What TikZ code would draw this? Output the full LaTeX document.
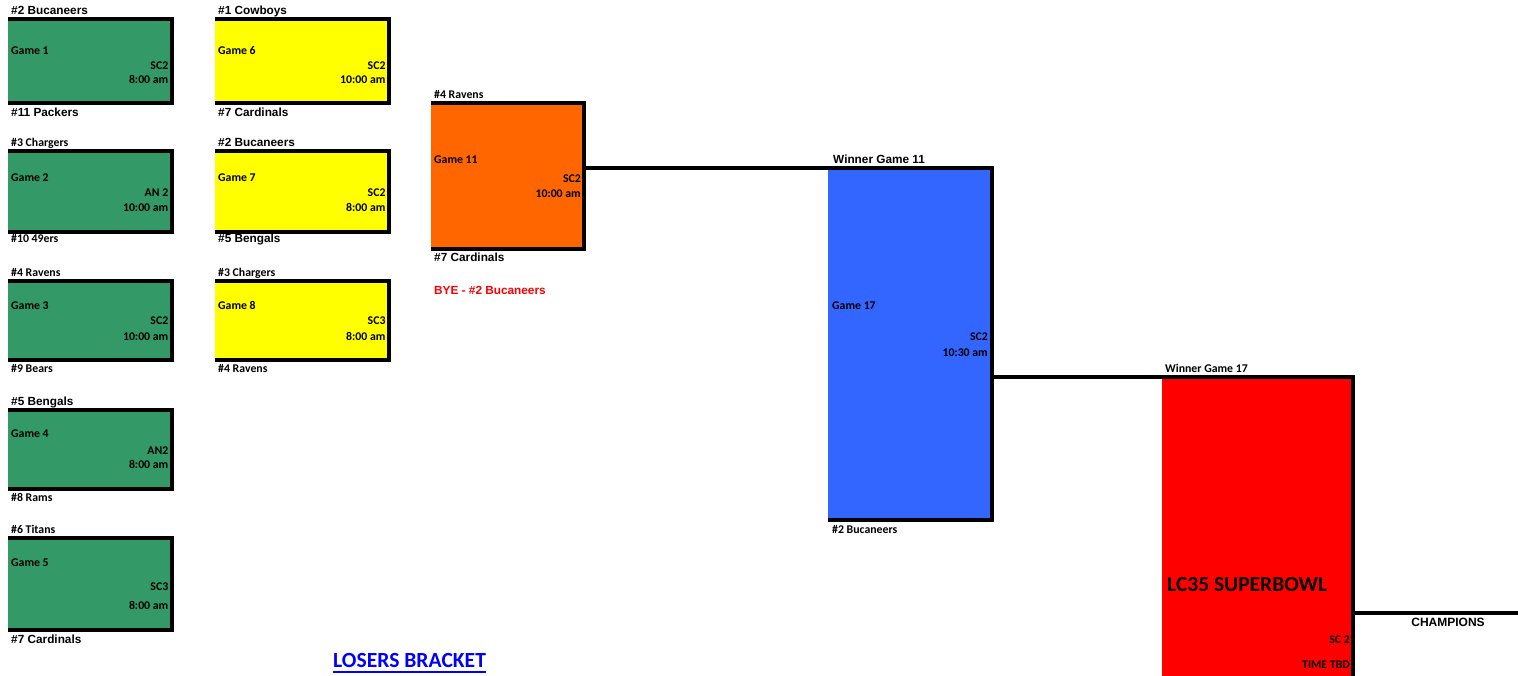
\documentclass[tikz,border=0pt]{standalone}
\usepackage{fontspec}
\usepackage{xcolor}
\usepackage{tikz}
\setmainfont{Carlito}
\newfontfamily\arialfont{Liberation Sans}

\definecolor{grn}{RGB}{51,153,102}
\definecolor{yel}{RGB}{255,255,0}
\definecolor{org}{RGB}{255,102,0}
\definecolor{blu}{RGB}{51,102,255}
\definecolor{rd}{RGB}{255,0,0}
\definecolor{linkblue}{RGB}{0,0,255}

\tikzset{
  gamebox/.style={anchor=north west, inner sep=0pt, outer sep=0pt, draw=none},
  rim/.style={line width=4pt, line join=miter},
  feed/.style={line width=3.4pt},
  cal/.style={font=\fontsize{11.8}{12}\selectfont\bfseries, inner sep=0pt},
  ari/.style={font=\arialfont\fontsize{11.8}{12}\selectfont\bfseries, inner sep=0pt},
  lft/.style={anchor=base west},
  rgt/.style={anchor=base east},
}

\begin{document}
\begin{tikzpicture}[x=1pt, y=-1pt]
\useasboundingbox (0,0) rectangle (1518,676);

% first round
\node[gamebox, fill=grn, minimum width=164pt, minimum height=84pt] (g1) at (8,19) {};
\node[gamebox, fill=grn, minimum width=164pt, minimum height=81pt] (g2) at (8,151) {};
\node[gamebox, fill=grn, minimum width=164pt, minimum height=79pt] (g3) at (8,281) {};
\node[gamebox, fill=grn, minimum width=164pt, minimum height=79pt] (g4) at (8,410) {};
\node[gamebox, fill=grn, minimum width=164pt, minimum height=92pt] (g5) at (8,538) {};

\draw[rim] (g1.north west) -- (g1.north east) -- (g1.south east) -- (g1.south west);
\draw[rim] (g2.north west) -- (g2.north east) -- (g2.south east) -- (g2.south west);
\draw[rim] (g3.north west) -- (g3.north east) -- (g3.south east) -- (g3.south west);
\draw[rim] (g4.north west) -- (g4.north east) -- (g4.south east) -- (g4.south west);
\draw[rim] (g5.north west) -- (g5.north east) -- (g5.south east) -- (g5.south west);

\node[ari, lft] (g1a) at (11,15) {\#2 Bucaneers};
\node[cal, lft] (g1n) at (11,54.3) {Game 1};
\node[cal, rgt] (g1s) at (168.5,69.3) {SC2};
\node[cal, rgt] (g1t) at (168.5,84) {8:00 am};
\node[ari, lft] (g1b) at (11,116.7) {\#11 Packers};

\node[cal, lft] (g2a) at (11,146.7) {\#3 Chargers};
\node[cal, lft] (g2n) at (11,181.7) {Game 2};
\node[cal, rgt] (g2s) at (168.5,196.7) {AN 2};
\node[cal, rgt] (g2t) at (168.5,211.7) {10:00 am};
\node[cal, lft] (g2b) at (11,243) {\#10 49ers};

\node[cal, lft] (g3a) at (11,276.7) {\#4 Ravens};
\node[cal, lft] (g3n) at (11,310) {Game 3};
\node[cal, rgt] (g3s) at (168.5,325) {SC2};
\node[cal, rgt] (g3t) at (168.5,340.7) {10:00 am};
\node[cal, lft] (g3b) at (11,372.7) {\#9 Bears};

\node[ari, lft] (g4a) at (11,405.7) {\#5 Bengals};
\node[cal, lft] (g4n) at (11,437.7) {Game 4};
\node[cal, rgt] (g4s) at (168.5,454) {AN2};
\node[cal, rgt] (g4t) at (168.5,468.3) {8:00 am};
\node[cal, lft] (g4b) at (11,501.7) {\#8 Rams};

\node[cal, lft] (g5a) at (11,533.3) {\#6 Titans};
\node[cal, lft] (g5n) at (11,566.7) {Game 5};
\node[cal, rgt] (g5s) at (168.5,590.7) {SC3};
\node[cal, rgt] (g5t) at (168.5,609) {8:00 am};
\node[ari, lft] (g5b) at (11,643.3) {\#7 Cardinals};

% second round
\node[gamebox, fill=yel, minimum width=174pt, minimum height=84pt] (g6) at (215,19) {};
\node[gamebox, fill=yel, minimum width=174pt, minimum height=81pt] (g7) at (215,151) {};
\node[gamebox, fill=yel, minimum width=174pt, minimum height=79pt] (g8) at (215,281) {};

\draw[rim] (g6.north west) -- (g6.north east) -- (g6.south east) -- (g6.south west);
\draw[rim] (g7.north west) -- (g7.north east) -- (g7.south east) -- (g7.south west);
\draw[rim] (g8.north west) -- (g8.north east) -- (g8.south east) -- (g8.south west);

\node[ari, lft] (g6a) at (218,15) {\#1 Cowboys};
\node[cal, lft] (g6n) at (218,54.3) {Game 6};
\node[cal, rgt] (g6s) at (385.7,69.3) {SC2};
\node[cal, rgt] (g6t) at (385.7,84) {10:00 am};
\node[ari, lft] (g6b) at (218,116.7) {\#7 Cardinals};

\node[ari, lft] (g7a) at (218,146.7) {\#2 Bucaneers};
\node[cal, lft] (g7n) at (218,181.7) {Game 7};
\node[cal, rgt] (g7s) at (385.7,196.7) {SC2};
\node[cal, rgt] (g7t) at (385.7,211.7) {8:00 am};
\node[ari, lft] (g7b) at (218,243) {\#5 Bengals};

\node[cal, lft] (g8a) at (218,276.7) {\#3 Chargers};
\node[cal, lft] (g8n) at (218,310) {Game 8};
\node[cal, rgt] (g8s) at (385.7,325) {SC3};
\node[cal, rgt] (g8t) at (385.7,340.7) {8:00 am};
\node[cal, lft] (g8b) at (218,372.7) {\#4 Ravens};

% game 11
\node[gamebox, fill=org, minimum width=153pt, minimum height=146pt] (g11) at (431,103) {};
\draw[rim] (g11.north west) -- (g11.north east) -- (g11.south east) -- (g11.south west);

\node[cal, lft] (g11a) at (434,99) {\#4 Ravens};
\node[cal, lft] (g11n) at (434,164) {Game 11};
\node[cal, rgt] (g11s) at (581,182.3) {SC2};
\node[cal, rgt] (g11t) at (581,197.3) {10:00 am};
\node[ari, lft] (g11b) at (434,261.7) {\#7 Cardinals};
\node[ari, lft, text=rd] (bye) at (434,295) {BYE - \#2 Bucaneers};

% game 17
\node[gamebox, fill=blu, minimum width=164pt, minimum height=352pt] (g17) at (828,168) {};
\draw[rim] (g17.north west) -- (g17.north east) -- (g17.south east) -- (g17.south west);
\draw[feed] (g11.east |- g17.north) -- (g17.north west);

\node[ari, lft] (g17a) at (833,163.3) {Winner Game 11};
\node[cal, lft] (g17n) at (832,310) {Game 17};
\node[cal, rgt] (g17s) at (988,340.7) {SC2};
\node[cal, rgt] (g17t) at (988,356) {10:30 am};
\node[cal, lft] (g17b) at (832,533.3) {\#2 Bucaneers};

% superbowl
\node[gamebox, fill=rd, minimum width=191pt, minimum height=313pt] (sb) at (1162,377) {};
\draw[rim] (sb.north west) -- (sb.north east) -- (sb.south east);
\draw[feed] (g17.east |- sb.north) -- (sb.north west);

\coordinate (champ) at (1518,613);
\draw[feed] (sb.east |- champ) -- (champ);

\node[cal, lft] (sba) at (1165,372.7) {Winner Game 17};
\node[cal, lft, font=\fontsize{21.5}{22}\selectfont\bfseries] (sbn) at (1167,591) {LC35 SUPERBOWL};
\node[cal, rgt] (sbs) at (1350,643) {SC 2};
\node[cal, rgt] (sbt) at (1350,668) {TIME TBD};
\node[ari, anchor=base, font=\arialfont\fontsize{12}{12}\selectfont\bfseries] (chp) at (1448,626.7) {CHAMPIONS};

% link
\node[cal, lft, text=linkblue, font=\fontsize{21.6}{22}\selectfont\bfseries] (lb) at (333,667.7) {LOSERS BRACKET};
\draw[linkblue, line width=1.8pt] ([yshift=-4pt]lb.base west) -- ([yshift=-4pt]lb.base east);
\end{tikzpicture}
\end{document}
